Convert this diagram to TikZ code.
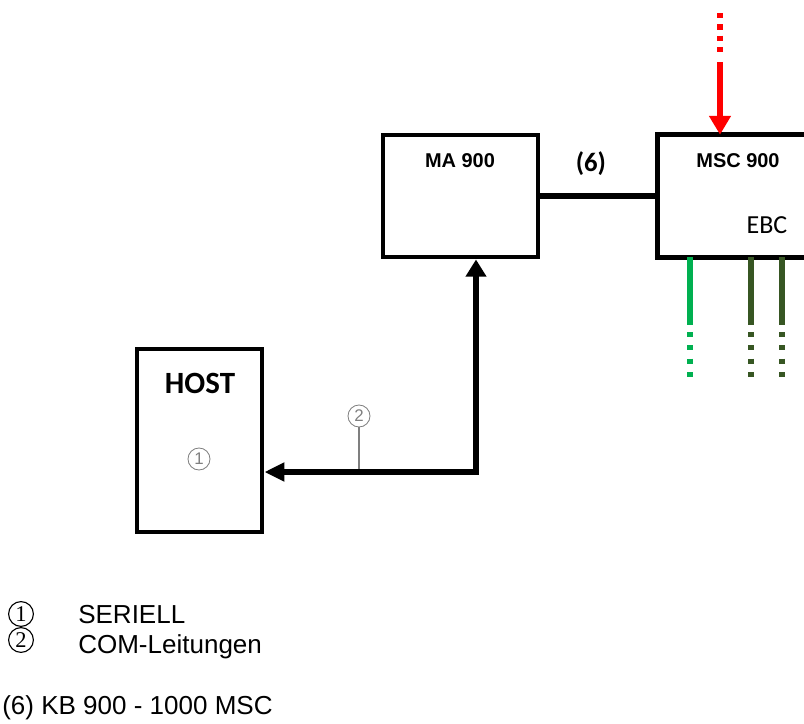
\documentclass[tikz,border=0pt]{standalone}
\usepackage{fontspec}
\setmainfont{Liberation Sans}
\newfontfamily\calibri{Carlito}
\newfontfamily\serifziff{Liberation Serif}
\usepackage{tikz}
\usetikzlibrary{arrows.meta,positioning}
\definecolor{rot}{HTML}{FF0000}
\definecolor{hellgruen}{HTML}{00B050}
\definecolor{dunkelgruen}{HTML}{375623}
\definecolor{grau}{HTML}{7F7F7F}

\begin{document}
\begin{tikzpicture}[x=0.025cm, y=-0.025cm,
  bx/.style={draw, line width=3.5pt, inner sep=0pt},
  nm/.style={font=\fontsize{14.2pt}{16pt}\selectfont\bfseries, inner sep=0pt},
  kreis/.style={draw=grau, circle, line width=0.6pt, minimum size=0.55cm, inner sep=0pt, text=grau, font=\fontsize{12pt}{13pt}\selectfont},
  lkreis/.style={draw, circle, line width=0.8pt, minimum size=0.62cm, inner sep=0pt, font=\serifziff\fontsize{16pt}{17pt}\selectfont},
  leg/.style={font=\fontsize{18.5pt}{22pt}\selectfont, inner sep=0pt, anchor=base west},
  dick/.style={line width=4.2pt}]
  \useasboundingbox (0,0) rectangle (804,724);
  % Kaesten
  \node[bx, minimum width=3.875cm, minimum height=3.05cm] (ma) at (460.5,196) {};
  \node[nm] (maname) at (460,161) {MA 900};
  \node[minimum width=3.65cm, minimum height=3.05cm, inner sep=0pt] (msc) at (731,196) {};
  \draw[line width=3.5pt] (msc.north east) -| (msc.south west) -- (msc.south east);
  \node[nm] (mscname) at (738,161) {MSC 900};
  \node[font=\calibri\fontsize{18.5pt}{20pt}\selectfont, inner sep=0pt] (ebc) at (767,225) {EBC};
  \node[bx, minimum width=3.125cm, minimum height=4.575cm] (host) at (199.5,440.5) {};
  \node[font=\calibri\bfseries\fontsize{22pt}{24pt}\selectfont, inner sep=0pt] (hostname) at (200,383) {HOST};
  \node[kreis] (k1) at (199,459) {1};
  \node[kreis] (k2) at (359,416) {2};
  % Verbindungen
  \draw[dick] (ma) -- node[pos=0.43, above=0.45cm, inner sep=0pt, font=\calibri\bfseries\fontsize{19pt}{20pt}\selectfont] (sechs) {(6)} (msc);
  \coordinate (knick) at (476,472);
  \draw[grau, line width=0.8pt] (k2) -- (k2 |- knick);
  \draw[dick, {Triangle[length=0.5cm, width=0.45cm]}-{Triangle[length=0.43cm, width=0.5cm]}]
    (host.east |- knick) -- (knick) -- (knick |- ma.south);
  \coordinate (rotoben) at (720,13);
  \coordinate (rotmitte) at (720,53);
  \coordinate (rotstart) at (720,62);
  \draw[dick, rot, dash pattern=on 3.9pt off 4.1pt] (rotoben) -- (rotmitte);
  \draw[dick, rot, -{Triangle[length=0.47cm, width=0.52cm]}] (rotstart) -- (rotstart |- msc.north);
  \foreach \x/\farbe in {690/hellgruen, 751/dunkelgruen, 782/dunkelgruen} {
    \coordinate (g\x) at (\x,325);
    \coordinate (gu\x) at (\x,378);
    \draw[dick, \farbe] (g\x |- msc.south) -- (g\x);
    \draw[dick, \farbe, dash pattern=on 3.6pt off 5.9pt] ([yshift=-0.175cm]g\x) -- (gu\x);
  }
  % Legende
  \node[lkreis] (l1) at (21,614) {1};
  \node[lkreis] (l2) at (21,640) {2};
  \node[leg] (t1) at (78,623) {SERIELL};
  \node[leg] (t2) at (78,653) {COM-Leitungen};
  \node[leg] (t3) at (2,714) {(6) KB 900 - 1000 MSC};
\end{tikzpicture}
\end{document}
